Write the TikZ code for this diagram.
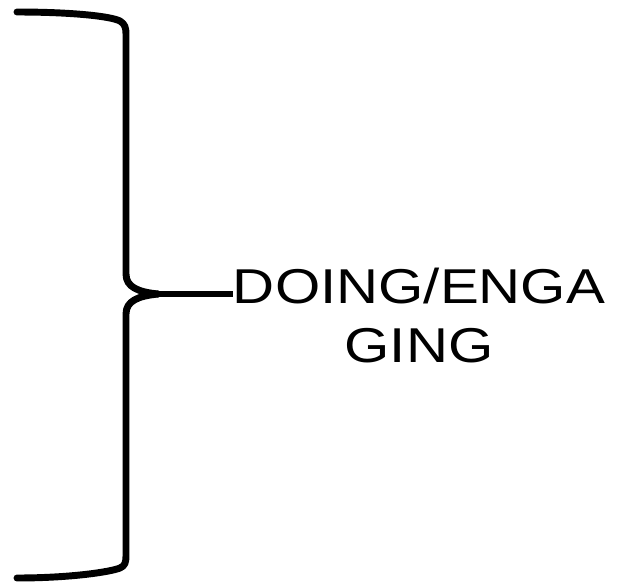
\documentclass[tikz,border=0pt]{standalone}
\usepackage{fontspec}
\setmainfont{Liberation Sans}
\usetikzlibrary{positioning}

\tikzset{
  brace/.style={color=black, line width=5.2, line cap=round, line join=round},
  bracelabel/.style={align=center, inner sep=0pt, xscale=1.19,
    font=\fontsize{36.7}{44.2}\selectfont}
}

\begin{document}
\begin{tikzpicture}[x=0.75pt,y=0.75pt,yscale=-1,xscale=1]
	\path[use as bounding box] (0,0) rectangle (624,582);
	
	%Brace tip and end of the stem
	\coordinate (tip) at (158,294);
	\coordinate (stem) at (233,294);
	
	%Curve Lines: upper half of brace
	\draw [brace] (17,12) .. controls (70,12) and (110,16) .. (120,21) .. controls (125,24) and (126,28) .. (126,34) -- (126,274) .. controls (126,287) and (138,292) .. (tip) ;
	%Curve Lines: lower half of brace
	\draw [brace] (tip) .. controls (138,296) and (126,301) .. (126,314) -- (126,556) .. controls (126,562) and (125,566) .. (120,568) .. controls (110,572) and (70,578) .. (17,578) ;
	%Straight Lines: stem
	\draw [brace, line cap=butt] (tip) -- (stem) ;
	
	% Text Node
	\node [bracelabel, anchor=base] (doing) at (419,362) {DOING/ENGA\\GING};
	
\end{tikzpicture}
\end{document}
